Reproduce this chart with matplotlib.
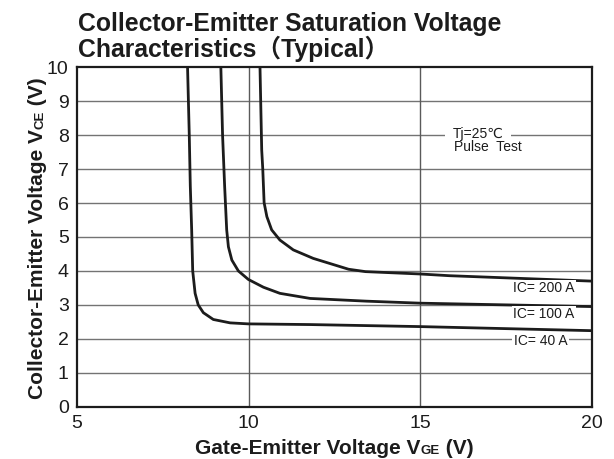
import numpy as np
import matplotlib
matplotlib.use("Agg")
import matplotlib.pyplot as plt
from matplotlib.transforms import IdentityTransform

# curve points (VGE [V], VCE [V])
vge_40 = [8.22, 8.27, 8.30, 8.34, 8.37, 8.44, 8.53, 8.68, 8.97, 9.46, 9.99, 11.79, 15.0, 20.0]
vce_40 = [10.0, 8.0, 6.5, 5.21, 4.0, 3.34, 3.0, 2.77, 2.57, 2.47, 2.44, 2.42, 2.36, 2.24]

vge_100 = [9.19, 9.24, 9.30, 9.36, 9.41, 9.51, 9.70, 9.99, 10.43, 10.91, 11.79, 13.42, 15.0, 20.0]
vce_100 = [10.0, 8.0, 6.5, 5.21, 4.71, 4.32, 4.0, 3.75, 3.52, 3.34, 3.19, 3.11, 3.05, 2.95]

vge_200 = [10.33, 10.38, 10.41, 10.45, 10.53, 10.67, 10.91, 11.30, 11.88, 12.91, 13.40, 15.0, 15.84, 20.0]
vce_200 = [10.0, 7.56, 7.02, 6.01, 5.60, 5.21, 4.91, 4.62, 4.37, 4.05, 3.98, 3.91, 3.86, 3.70]

curve_labels = ["IC= 200 A", "IC= 100 A", "IC= 40 A"]
label_x = [18.6, 18.6, 18.5]
label_y = [3.49, 2.72, 1.94]

x_ticks = [5, 10, 15, 20]
y_ticks = list(range(0, 11))

title = "Collector-Emitter Saturation Voltage\nCharacteristics\uff08Typical\uff09"
xlabel_parts = ["Gate-Emitter Voltage V", "GE", " (V)"]
ylabel_parts = ["Collector-Emitter Voltage V", "CE", " (V)"]

main_font = ["Liberation Sans", "Noto Sans CJK JP", "DejaVu Sans"]
tick_font = ["Liberation Sans Narrow", "Liberation Sans", "DejaVu Sans"]
ink = "#1c1c1c"

W, H = 614, 459
fig = plt.figure(figsize=(W / 100, H / 100), dpi=100)
ax = fig.add_axes([77/W, 1 - 406.7/H, 515/W, 339.4/H])

ax.set_xlim(5, 20)
ax.set_ylim(0, 10)

# grid
for y in y_ticks[1:-1]:
    ax.axhline(y, color="#737373", lw=1.0, zorder=1)
for x in [10, 15]:
    ax.axvline(x, color="#5a5a5a", lw=1.0, zorder=1)

for xs, ys in [(vge_40, vce_40), (vge_100, vce_100), (vge_200, vce_200)]:
    ax.plot(xs, ys, color=ink, lw=2.0, solid_joinstyle="round", zorder=3)

for lab, lx, ly in zip(curve_labels, label_x, label_y):
    ax.text(lx, ly, lab, ha="center", va="center", fontsize=10, family=main_font,
            color=ink, zorder=4,
            bbox=dict(facecolor="white", edgecolor="none", pad=1.0))

ax.text(16.68, 8.03, "Tj=25\u2103", ha="center", va="center", fontsize=10,
        family=["Liberation Sans", "DejaVu Sans"], color=ink, zorder=4,
        bbox=dict(facecolor="white", edgecolor="none", pad=5.5))
ax.text(16.97, 7.66, "Pulse  Test", ha="center", va="center", fontsize=10,
        family=main_font, color=ink, zorder=4)

ax.set_xticks(x_ticks)
ax.set_yticks(y_ticks)
ax.tick_params(length=0, pad=6, labelsize=14, colors=ink)
for t in ax.get_xticklabels() + ax.get_yticklabels():
    t.set_family(tick_font)

for s in ax.spines.values():
    s.set_linewidth(1.6)
    s.set_color(ink)

fig.text(78/W, 1 - 57/H, title, ha="left", va="baseline", fontsize=17.8,
         fontweight="bold", family=main_font, linespacing=0.97, color=ink)


# axis labels: "V" + small "GE" + "(V)" on one baseline, pieces placed side by side
def chained_label(parts, center, baseline, rotated):
    styles = [dict(fontsize=15, fontweight="bold"),
              dict(fontsize=9.5, fontweight="bold"),
              dict(fontsize=15, fontweight="bold")]
    texts = []
    for s, st in zip(parts, styles):
        kw = dict(transform=IdentityTransform(), ha="left", va="baseline",
                  family=main_font, color=ink, **st)
        if rotated:
            kw.update(rotation=90, rotation_mode="anchor")
        texts.append(fig.text(0, 0, s, **kw))
    rend = fig.canvas.get_renderer()
    lengths = []
    for t in texts:
        bb = t.get_window_extent(rend)
        lengths.append(bb.height if rotated else bb.width)
    pos = center - sum(lengths) / 2
    for t, ln in zip(texts, lengths):
        t.set_position((baseline, pos) if rotated else (pos, baseline))
        pos += ln


chained_label(xlabel_parts, 334, H - 454, rotated=False)
chained_label(ylabel_parts, H - 238, 43, rotated=True)

fig.savefig("out.png", dpi=100)
